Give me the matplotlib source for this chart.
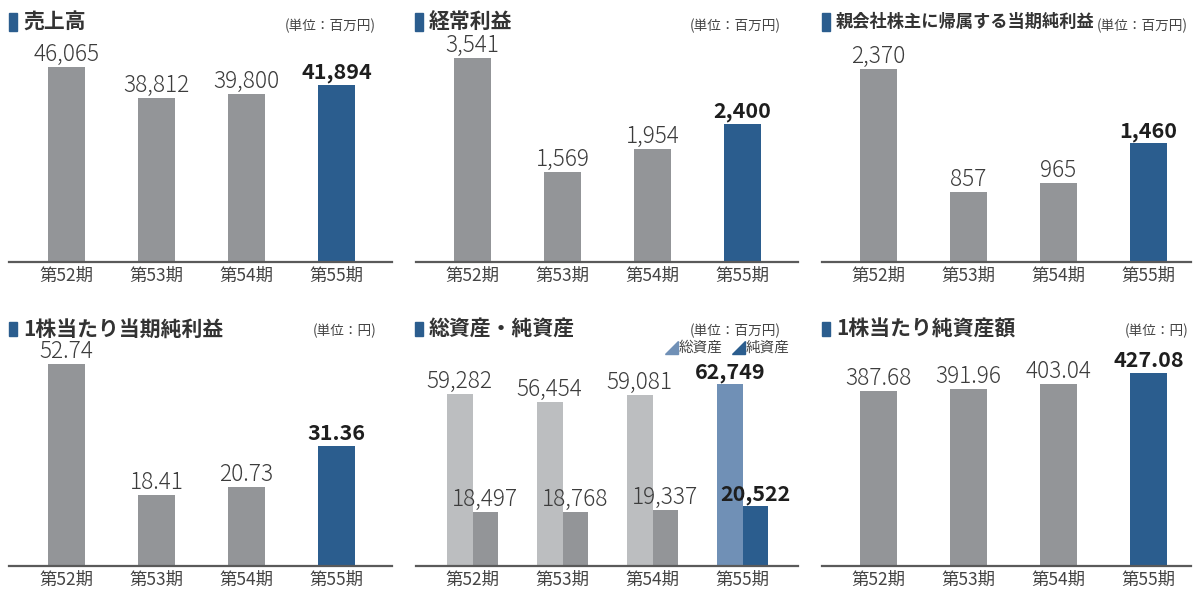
import matplotlib.pyplot as plt
from matplotlib.patches import Rectangle, Polygon

plt.rcParams['font.family'] = ['Noto Sans CJK JP', 'DejaVu Sans']

W, H = 1195, 589

periods = ['第52期', '第53期', '第54期', '第55期']

sales = [46065, 38812, 39800, 41894]
ordinary_income = [3541, 1569, 1954, 2400]
net_income = [2370, 857, 965, 1460]
eps = [52.74, 18.41, 20.73, 31.36]
total_assets = [59282, 56454, 59081, 62749]
net_assets = [18497, 18768, 19337, 20522]
bps = [387.68, 391.96, 403.04, 427.08]

sales_labels = ['46,065', '38,812', '39,800', '41,894']
ordinary_labels = ['3,541', '1,569', '1,954', '2,400']
net_income_labels = ['2,370', '857', '965', '1,460']
eps_labels = ['52.74', '18.41', '20.73', '31.36']
total_labels = ['59,282', '56,454', '59,081', '62,749']
net_assets_labels = ['18,497', '18,768', '19,337', '20,522']
bps_labels = ['387.68', '391.96', '403.04', '427.08']

GRAY = '#939598'
LIGHT_GRAY = '#bcbec0'
BLUE = '#2b5d8e'
LIGHT_BLUE = '#7090b6'
TEXT = '#3c3c3c'
BOLD_TEXT = '#1e1e1e'

fig = plt.figure(figsize=(W / 100, H / 100), dpi=100)


def px_axes(x0, y0, x1, y1):
    return fig.add_axes([x0 / W, 1 - y1 / H, (x1 - x0) / W, (y1 - y0) / H])


def setup_axes(ax, first_center, ymax):
    # bars are 90 px apart; map that spacing onto categories 0..3
    x0, x1 = ax.get_position().x0 * W, ax.get_position().x1 * W
    ax.set_xlim((x0 - first_center) / 90, (x1 - first_center) / 90)
    ax.set_ylim(0, ymax)
    for s in ['top', 'right', 'left']:
        ax.spines[s].set_visible(False)
    ax.spines['bottom'].set_color('#5a5a5a')
    ax.spines['bottom'].set_linewidth(1.6)
    ax.set_yticks([])
    ax.set_xticks(range(4))
    ax.set_xticklabels(periods, fontsize=12.5, color='#444444')
    ax.tick_params(axis='x', length=0, pad=3.5)
    ax.patch.set_alpha(0)


def value_label(ax, x, y, text, bold):
    ax.annotate(text, (x, y), xytext=(0, 6), textcoords='offset pixels',
                ha='center', va='baseline',
                fontsize=15.5 if bold else 16.3,
                fontweight='bold' if bold else 'light',
                color=BOLD_TEXT if bold else TEXT)


def header(left, right, ytop, title, unit, title_size=15):
    top_row = ytop < 100
    h = 17 if top_row else 14
    yc = ytop + 9
    fig.patches.append(Rectangle((left / W, 1 - (yc + h / 2) / H), 8 / W, h / H,
                                 transform=fig.transFigure, color=BLUE))
    fig.text((left + 14) / W, 1 - yc / H, title, fontsize=title_size,
             fontweight='bold', color='#333333', va='center', ha='left')
    uy = yc + 4 if top_row else yc + 2
    fig.text(right / W, 1 - uy / H, unit, fontsize=9.8,
             color='#444444', va='center', ha='right')


def single_panel(x0, x1, ybase, first_center, values, labels, ymax):
    ax = px_axes(x0, ybase - 222, x1, ybase)
    setup_axes(ax, first_center, ymax)
    colors = [GRAY, GRAY, GRAY, BLUE]
    ax.bar(range(4), values, width=37 / 90, color=colors)
    for i, (v, t) in enumerate(zip(values, labels)):
        value_label(ax, i, v, t, i == 3)
    return ax


# top row
single_panel(9, 392, 262, 66.5, sales, sales_labels, 52443)
header(9, 376, 13, '売上高', '(単位：百万円)')

single_panel(416, 798, 262, 472.5, ordinary_income, ordinary_labels, 3853)
header(415, 781, 13, '経常利益', '(単位：百万円)')

single_panel(822, 1191, 262, 878.5, net_income, net_income_labels, 2726)
header(822, 1188, 13, '親会社株主に帰属する当期純利益', '(単位：百万円)', title_size=12.4)

# bottom row
single_panel(9, 392, 566, 66.5, eps, eps_labels, 57.96)
header(9, 376, 320, '1株当たり当期純利益', '(単位：円)')

ax5 = px_axes(416, 566 - 222, 798, 566)
setup_axes(ax5, 472.5, 76543)
bw = 25.5 / 90
xs = list(range(4))
ax5.bar([x - bw / 2 for x in xs], total_assets, width=bw,
        color=[LIGHT_GRAY, LIGHT_GRAY, LIGHT_GRAY, LIGHT_BLUE])
ax5.bar([x + bw / 2 for x in xs], net_assets, width=bw,
        color=[GRAY, GRAY, GRAY, BLUE])
for i in xs:
    value_label(ax5, i - bw / 2, total_assets[i], total_labels[i], i == 3)
    value_label(ax5, i + bw / 2, net_assets[i], net_assets_labels[i], i == 3)
header(415, 781, 320, '総資産・純資産', '(単位：百万円)')

# legend with triangle markers
for mx, color, name in [(665, LIGHT_BLUE, '総資産'), (732, BLUE, '純資産')]:
    tri = Polygon([(mx / W, 1 - 354 / H), ((mx + 13) / W, 1 - 354 / H),
                   ((mx + 13) / W, 1 - 341 / H)], closed=True,
                  transform=fig.transFigure, color=color)
    fig.patches.append(tri)
    fig.text((mx + 14) / W, 1 - 347.5 / H, name, fontsize=10.5, color='#444444',
             va='center', ha='left')

single_panel(822, 1191, 566, 878.5, bps, bps_labels, 491.3)
header(822, 1188, 320, '1株当たり純資産額', '(単位：円)')

fig.savefig('out.png', dpi=100)
